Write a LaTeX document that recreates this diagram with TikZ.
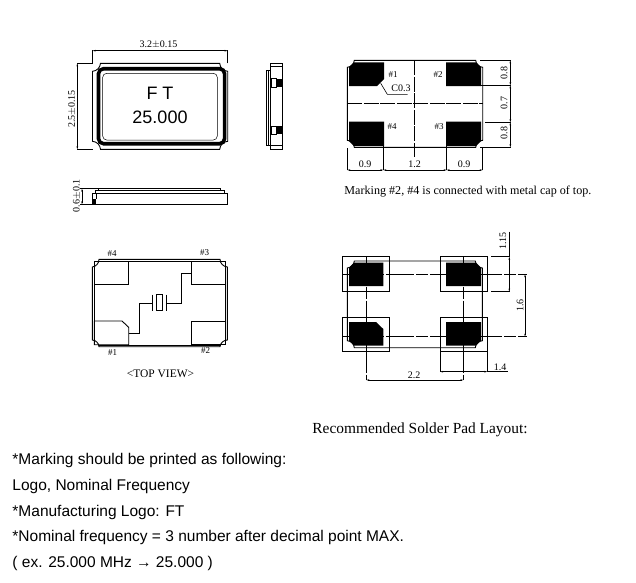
\documentclass[tikz,border=0pt]{standalone}
\usepackage{fontspec}
\setmainfont{Liberation Serif}
\newfontfamily\arialfont{Liberation Sans}
\usetikzlibrary{arrows.meta}
\tikzstyle{every path}+=[line width=0.9pt]
\tikzstyle{scoop}=[bend right=40]
\tikzstyle{dimline}=[line width=0.7pt,{Stealth[length=3pt,width=1.6pt]}-{Stealth[length=3pt,width=1.6pt]}]
\tikzstyle{centerline}=[line width=0.9pt,dash pattern=on 15pt off 1.5pt]
\tikzstyle{landline}=[line width=0.9pt,dash pattern=on 28pt off 2pt on 12pt off 2pt]
\tikzstyle{dimtext}=[inner sep=0pt,font=\fontsize{10}{12}\selectfont]
\tikzstyle{pintext}=[inner sep=0pt,font=\fontsize{9}{11}\selectfont]
\tikzstyle{serifnote}=[inner sep=0pt,anchor=west]
\tikzstyle{sansnote}=[inner sep=0pt,anchor=west,font=\arialfont\fontsize{15.5}{17}\selectfont]
\newcommand{\drawlines}[2][]{
	\foreach \xa/\ya/\xb/\yb in {#2}{
		\draw[#1] (\xa,\ya) -- (\xb,\yb);
	}
}
% outline with scooped corners: x1,y1,x2,y2,notch
\newcommand{\notchbox}[5]{
	\draw (#1+#5,#2) -- (#3-#5,#2) to[scoop] (#3,#2+#5) -- (#3,#4-#5) to[scoop] (#3-#5,#4) -- (#1+#5,#4) to[scoop] (#1,#4-#5) -- (#1,#2+#5) to[scoop] cycle;
}
\begin{document}
\begin{tikzpicture}[x=1pt,y=-1pt]
\useasboundingbox (0,0) rectangle (636,582);
% top of the cap
\begin{scope}
\notchbox{92.5}{63.3}{227.7}{149.3}{8}
\draw[line width=3.6pt,rounded corners=5pt] (98.5,68.7) rectangle (224.6,143.7);
\draw[line width=0.5pt,rounded corners=4pt] (102.7,73.3) rectangle (217.3,140);
\node[inner sep=0pt,font=\arialfont\fontsize{18}{20}\selectfont] (brand) at (160,93.3) {F T};
\node[inner sep=0pt,font=\arialfont\fontsize{18}{20}\selectfont] (freq) at (160,117.7) {25.000};
\drawlines[line width=0.6pt]{92.5/63.3/92.5/49.5,227.7/63.3/227.7/49.5,92.5/63.3/76.5/63.3,92.5/149.3/76.5/149.3}
\draw[dimline] (92.5,50.7) -- (227.7,50.7);
\draw[dimline] (77.3,63.3) -- (77.3,149.3);
\node[dimtext] (wlabel) at (158.5,44.5) {3.2$\pm$0.15};
\node[dimtext,rotate=90] (hlabel) at (72,109) {2.5$\pm$0.15};
\end{scope}
% side view
\begin{scope}
\draw (270.7,63.3) rectangle (282.3,149.3);
\draw (270.7,66.7) -- (282.3,66.7);
\draw (270.7,145.7) -- (282.3,145.7);
\draw (270.7,70) -- (266,70) -- (266,145) -- (270.7,145);
\draw (268.3,70) -- (268.3,145);
\foreach \y in {78.7,126}{
	\draw (271,\y) rectangle (276,\y+8.3);
	\fill (276,\y) rectangle (282.3,\y+8.3);
}
\end{scope}
% front view
\begin{scope}
\draw (92.3,193.3) rectangle (227.7,204.3);
\draw (95.7,193.3) -- (95.7,190.7) -- (224.3,190.7) -- (224.3,193.3);
\draw (98.3,190.7) -- (98.3,188.7) -- (220.7,188.7) -- (220.7,190.7);
\fill (92.3,199) rectangle (96,204.3);
\draw (96,193.3) -- (96,199);
\drawlines[line width=0.6pt]{98.3/188.7/80/188.7,92.3/204.3/80/204.3}
\draw[dimline] (82,188.7) -- (82,204.3);
\node[dimtext,rotate=90] (tlabel) at (76.7,195.7) {0.6$\pm$0.1};
\end{scope}
% bottom view, pads
\begin{scope}
\notchbox{347.3}{60.3}{482.7}{147.3}{7}
\fill (349,67) -- (354,62.3) -- (384,62.3) -- (384,79) -- (377,86) -- (349,86) -- cycle;
\fill (446,62.3) -- (476,62.3) -- (481,67) -- (481,86) -- (446,86) -- cycle;
\fill (349,121.7) -- (384,121.7) -- (384,146) -- (354,146) -- (349,141) -- cycle;
\fill (446,121.7) -- (481,121.7) -- (481,141) -- (476,146) -- (446,146) -- cycle;
\draw[centerline] (347.3,103.3) -- (482.7,103.3);
\draw[centerline] (414.3,60.3) -- (414.3,157);
\drawlines[line width=0.6pt]{347.3/148/347.3/170,383.3/146/383.3/170,446.7/146/446.7/170,482.7/148/482.7/170}
\draw[dimline] (347.3,170) -- (383.3,170);
\draw[dimline] (383.3,170) -- (446.7,170);
\draw[dimline] (446.7,170) -- (482.7,170);
\drawlines[line width=0.6pt]{480/60.3/511/60.3,481/85.3/511/85.3,485/122.3/511/122.3,480/147.3/511/147.3}
\draw[dimline] (510.3,60.3) -- (510.3,85.3);
\draw[dimline] (510.3,85.3) -- (510.3,122.3);
\draw[dimline] (510.3,122.3) -- (510.3,147.3);
\node[dimtext] (wa) at (365,164) {0.9};
\node[dimtext] (wb) at (414.7,164) {1.2};
\node[dimtext] (wc) at (464,164) {0.9};
\node[dimtext,rotate=90] (ha) at (504,73) {0.8};
\node[dimtext,rotate=90] (hb) at (504,103) {0.7};
\node[dimtext,rotate=90] (hc) at (504,133) {0.8};
\node[pintext] (p1) at (393,75) {\#1};
\node[pintext] (p2) at (438,75) {\#2};
\node[pintext] (p4) at (392,127) {\#4};
\node[pintext] (p3) at (439,127) {\#3};
\node[dimtext] (chamfer) at (401,88.7) {C0.3};
\draw[line width=0.6pt] (380.7,83.3) -- (387.3,94.3) -- (407.7,94.3);
\node[serifnote,font=\fontsize{12.1}{14}\selectfont] (mark) at (344,192) {Marking \#2, \#4 is connected with metal cap of top.};
\end{scope}
% top view with the crystal
\begin{scope}
\draw (94.3,261) -- (94.3,338);
\draw (225.7,261) -- (225.7,338);
\draw (99,259.3) -- (220,259.3) to[scoop] (227.3,267) -- (227.3,340) to[scoop] (220,346.7) -- (99,346.7) to[scoop] (92.3,340) -- (92.3,267) to[scoop] cycle;
\draw (99,261) -- (220,261);
\draw (99,345) -- (220,345);
\draw (94.3,261.3) rectangle (128.7,284.3);
\draw (191.3,261.3) rectangle (225.7,284.3);
\draw (94.3,321) -- (122,321) -- (128.7,327.3) -- (128.7,344.7) -- (94.3,344.7) -- cycle;
\draw (191.3,321) rectangle (225.7,344.7);
\draw (128.7,333.7) -- (139.3,333.7) -- (139.3,303) -- (152.3,303);
\draw (152.3,294.7) -- (152.3,310.7);
\draw (156,294) rectangle (162.7,310.7);
\draw (166.7,294.7) -- (166.7,310.7);
\draw (166.7,303) -- (181.3,303) -- (181.3,273.3) -- (191.3,273.3);
\node[pintext] (t4) at (112,254) {\#4};
\node[pintext] (t3) at (204.5,253) {\#3};
\node[pintext] (t1) at (112.7,352.5) {\#1};
\node[pintext] (t2) at (205.7,351) {\#2};
\node[dimtext,font=\fontsize{11.5}{13}\selectfont] (view) at (160.5,374) {<TOP VIEW>};
\end{scope}
% recommended land pattern
\begin{scope}
\notchbox{347.3}{261}{482.3}{347.7}{7}
\foreach \x in {342.3,440}{
	\foreach \y in {256.7,317.3}{
		\draw (\x,\y) rectangle (\x+47,\y+34.5);
	}
}
\fill (349,267.7) -- (354,262.7) -- (383.3,262.7) -- (383.3,286) -- (349,286) -- cycle;
\fill (446,262.7) -- (476,262.7) -- (481,267.7) -- (481,286) -- (446,286) -- cycle;
\fill (349,322) -- (376,322) -- (383.3,329) -- (383.3,345.7) -- (354,345.7) -- (349,340.7) -- cycle;
\fill (446,322) -- (481,322) -- (481,340.7) -- (476,345.7) -- (446,345.7) -- cycle;
\draw[landline] (342.3,274.3) -- (526.7,274.3);
\draw[landline] (342.3,336.7) -- (526.7,336.7);
\draw[landline] (366.3,256.7) -- (366.3,380);
\draw[landline] (463.3,256.7) -- (463.3,380);
\draw[dimline] (366.3,380) -- (463.3,380);
\drawlines[line width=0.6pt]{440/351.8/440/371.7,487.3/351.8/487.3/371.7,487.3/371.7/508/371.7,491/256.7/510/256.7,491/291.7/510/291.7,509.3/231.7/509.3/256.7}
\draw[dimline] (440,371.7) -- (487.3,371.7);
\draw[dimline] (509.3,256.7) -- (509.3,291.7);
\draw[dimline] (525,274.3) -- (525,336.7);
\node[dimtext] (wp) at (414,375) {2.2};
\node[dimtext] (lp) at (500,367) {1.4};
\node[dimtext,rotate=90] (hp) at (503,241) {1.15};
\node[dimtext,rotate=90] (gp) at (520,305.7) {1.6};
\node[serifnote,font=\fontsize{15.4}{17}\selectfont] (layout) at (312,430) {Recommended Solder Pad Layout:};
\end{scope}
% notes
\node[sansnote] (n1) at (12,460) {*Marking should be printed as following:};
\node[sansnote] (n2) at (12,486) {Logo, Nominal Frequency};
\node[sansnote] (n3) at (12,512) {*Manufacturing Logo: FT};
\node[sansnote] (n4) at (12,537) {*Nominal frequency = 3 number after decimal point MAX.};
\node[sansnote] (n5) at (12,563) {( ex. 25.000 MHz → 25.000 )};
\end{tikzpicture}
\end{document}
